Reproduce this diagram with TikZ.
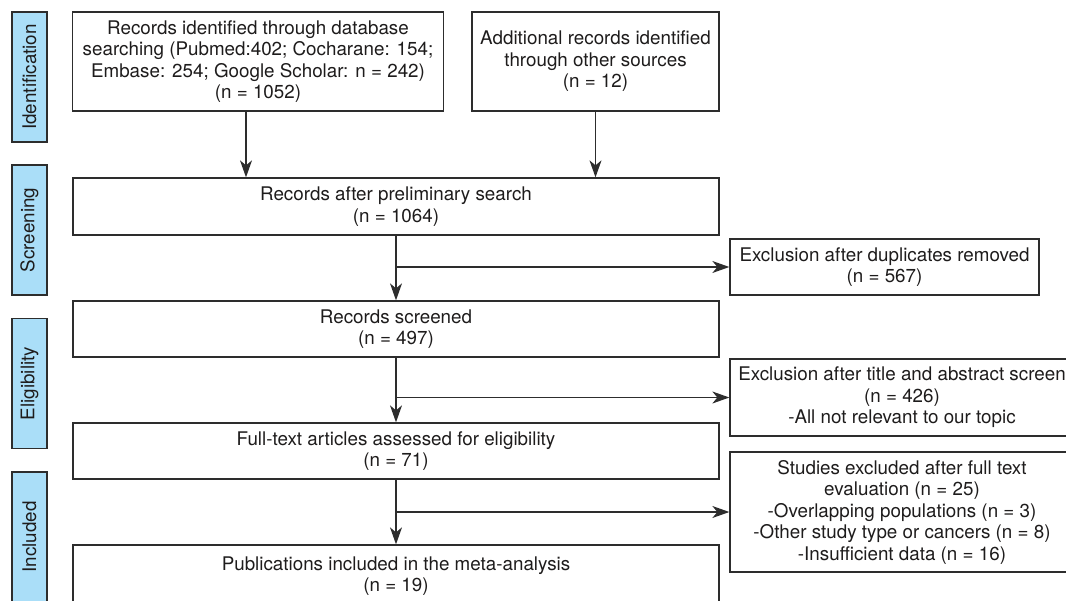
\documentclass[tikz,border=0pt]{standalone}
\usepackage{fontspec}
\setmainfont{TeX Gyre Heros}
\usetikzlibrary{arrows.meta}
\definecolor{phaseblue}{RGB}{170,222,248}
\definecolor{edgegray}{RGB}{45,45,45}
\definecolor{inkblack}{RGB}{30,28,28}
\begin{document}
\begin{tikzpicture}[x=1pt,y=-1pt,
  font=\fontsize{18.8}{21.5}\selectfont, text=inkblack,
  box/.style={draw=edgegray, line width=1.3pt, inner sep=0pt, align=center},
  phase/.style={draw=edgegray, line width=1.3pt, fill=phaseblue, rotate=90,
    minimum width=130pt, minimum height=35pt, inner sep=0pt},
  arr/.style={-{Stealth[length=17pt,width=12pt,inset=5pt]}, line width=1.3pt, draw=edgegray}]
\useasboundingbox (0,0) rectangle (1066,600);
\clip (0,0) rectangle (1066,600);
% phases on the left
\node[phase] (idph) at (29.5,77) {Identification};
\node[phase] (scph) at (29.5,230) {Screening};
\node[phase] (elph) at (29.5,383.5) {Eligibility};
\node[phase] (inph) at (29.5,537) {Included};
% main column
\node[box, minimum width=371pt, minimum height=99pt] (ident) at (258,61.5)
  {Records identified through database\\searching (Pubmed:402; Cocharane: 154;\\Embase: 254; Google Scholar: n = 242)\\(n = 1052)};
\node[box, minimum width=247pt, minimum height=99pt] (other) at (595.5,61.5)
  {Additional records identified\\through other sources\\(n = 12)};
\node[box, minimum width=646pt, minimum height=57pt] (prelim) at (396,206.5)
  {Records after preliminary search\\(n = 1064)};
\node[box, minimum width=646pt, minimum height=56pt] (screened) at (396,329)
  {Records screened\\(n = 497)};
\node[box, minimum width=646pt, minimum height=56pt] (fulltext) at (396,451)
  {Full-text articles assessed for eligibility\\(n = 71)};
\node[box, minimum width=646pt, minimum height=62pt] (incl) at (396,576)
  {Publications included in the meta-analysis\\(n = 19)};
% exclusions
\node[box, minimum width=309pt, minimum height=56pt] (dup) at (884.5,267)
  {Exclusion after duplicates removed\\(n = 567)};
\node[box, minimum width=344pt, minimum height=77pt] (tiab) at (902,397.5)
  {Exclusion after title and abstract screen\\(n = 426)\\-All not relevant to our topic};
\node[box, minimum width=344pt, minimum height=120pt] (excl) at (902,512)
  {Studies excluded after full text\\evaluation (n = 25)\\-Overlapping populations (n = 3)\\-Other study type or cancers (n = 8)\\-Insufficient data (n = 16)};
% arrows
\draw[arr] ([xshift=-12pt]ident.south) -- ([xshift=-12pt]ident.south |- prelim.north);
\draw[arr] (other.south) -- (other.south |- prelim.north);
\draw[arr] (prelim.south) -- (screened.north);
\draw[arr] (prelim.south |- dup.west) -- (dup.west);
\draw[arr] (screened.south) -- (fulltext.north);
\draw[arr] (screened.south |- tiab.west) -- (tiab.west);
\draw[arr] (fulltext.south) -- (incl.north);
\draw[arr] (fulltext.south |- excl.west) -- (excl.west);
\end{tikzpicture}
\end{document}
